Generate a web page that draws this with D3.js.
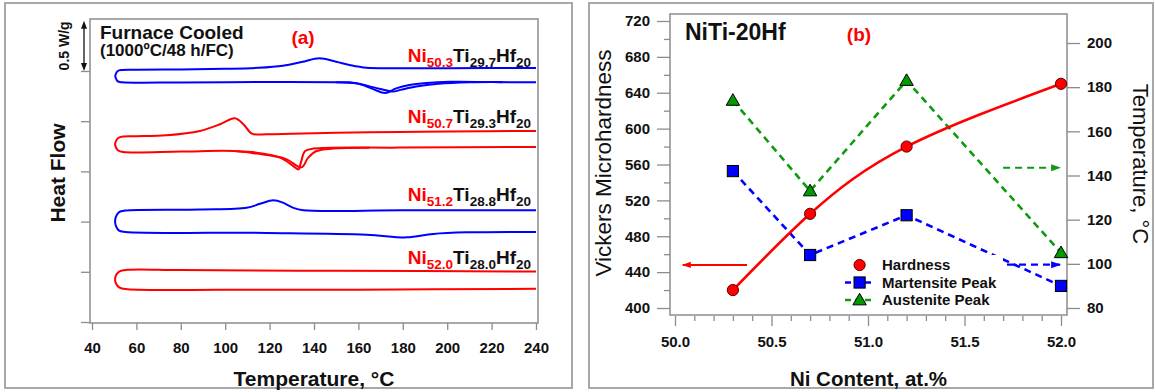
<!DOCTYPE html>
<html>
<head>
<meta charset="utf-8">
<script src="https://cdn.jsdelivr.net/npm/d3@7"></script>
<style>
  body { margin: 0; background: #fff; }
  svg { display: block; }
</style>
</head>
<body>
<svg id="chart" width="1155" height="392"></svg>
<script>
// ---------------- Panel (a): DSC heat-flow loops ----------------
// Each loop: [temperature °C, heat flow W/g (stacked offset)], cooling branch
// from 240 °C down to 50 °C, the turn, then the heating branch back up.
const dscNi503 = [
  [240, 2.530], [200, 2.528], [180, 2.528], [163.7, 2.532], [156, 2.560], [150, 2.593],
  [142.4, 2.627], [135, 2.593], [126, 2.553], [115, 2.532], [100, 2.522], [80, 2.516],
  [60, 2.512], [53.5, 2.510],
  [51.6, 2.500], [50.7, 2.470], [50.5, 2.449], [50.7, 2.428], [51.6, 2.397], [53.5, 2.388],
  [80, 2.386], [120, 2.390], [150, 2.388], [156, 2.387], [160.6, 2.370], [166.7, 2.320],
  [172, 2.280], [177, 2.327], [183, 2.360], [190.7, 2.380], [201, 2.392], [220, 2.390], [240, 2.388]
];
const dscNi503Cycle2 = [
  [150, 2.388], [159, 2.377], [167, 2.337], [175.5, 2.295], [179, 2.312], [186, 2.345],
  [196, 2.372], [210, 2.387], [225, 2.389]
];
const dscNi507 = [
  [240, 1.903], [200, 1.898], [178.7, 1.893], [150, 1.885], [130, 1.875], [118.7, 1.870],
  [112, 1.877], [108.2, 1.970], [104.4, 2.030], [97.7, 1.970], [88.6, 1.903], [73.6, 1.860],
  [60, 1.850], [54, 1.847],
  [51.8, 1.832], [50.7, 1.797], [50.4, 1.770], [50.7, 1.743], [51.8, 1.708], [54, 1.693],
  [80, 1.697], [103.7, 1.703], [114.2, 1.677], [124.7, 1.637], [130.7, 1.553], [133, 1.520],
  [134.1, 1.590], [136, 1.703], [139.7, 1.727], [178.7, 1.737], [240, 1.743]
];
const dscNi507Cycle2 = [
  [105, 1.700], [114.2, 1.687], [121, 1.660], [127.7, 1.620], [134.4, 1.540], [137.4, 1.637],
  [141.2, 1.703], [148.7, 1.727], [165, 1.735]
];
const dscNi512 = [
  [240, 1.113], [180, 1.113], [135.2, 1.113], [130.7, 1.137], [126.2, 1.187], [121.7, 1.213],
  [115.7, 1.177], [109.7, 1.137], [88.6, 1.120], [55, 1.110],
  [52.2, 1.095], [50.8, 1.050], [50.4, 1.003], [50.8, 0.956], [52.2, 0.910], [55, 0.897],
  [118.7, 0.887], [163.7, 0.870], [181.7, 0.843], [193.7, 0.877], [208.8, 0.893], [240, 0.897]
];
const dscNi520 = [
  [240, 0.503], [150, 0.510], [80, 0.517], [56, 0.520],
  [52.4, 0.505], [50.8, 0.465], [50.4, 0.424], [50.8, 0.383], [52.4, 0.342], [56, 0.327],
  [100, 0.320], [160, 0.322], [240, 0.330]
];
const alloyNi = ["50.3", "50.7", "51.2", "52.0"];
const alloyTi = ["29.7", "29.3", "28.8", "28.0"];
const alloyHf = "20";
const dscTempTicks = [40, 60, 80, 100, 120, 140, 160, 180, 200, 220, 240];
const heatFlowTicks = [0, 0.5, 1.0, 1.5, 2.0, 2.5];

// ---------------- Panel (b): hardness and transformation peaks ----------------
const niContent = [50.3, 50.7, 51.2, 52.0];
const hardness = [420, 505, 580, 650];
const martensitePeak = [142, 104, 122, 90];
const austenitePeak = [174, 133, 183, 105];
const hardnessTicks = [400, 440, 480, 520, 560, 600, 640, 680, 720];
const hardnessMinorTicks = [420, 460, 500, 540, 580, 620, 660, 700];
const peakTempTicks = [80, 100, 120, 140, 160, 180, 200];
const niTicks = [50.0, 50.5, 51.0, 51.5, 52.0];
const niMinorTicks = [50.1, 50.2, 50.3, 50.4, 50.6, 50.7, 50.8, 50.9, 51.1, 51.2, 51.3, 51.4,
                      51.6, 51.7, 51.8, 51.9];
const legendNames = ["Hardness", "Martensite Peak", "Austenite Peak"];

// ---------------- styling ----------------
const FONT = "'Liberation Sans', Arial, Helvetica, sans-serif";
const FRAME = "#8c8c8c";
const RED = "#ff0000", BLUE = "#0000ff", GREEN = "#109a10";

const svg = d3.select("#chart").style("font-family", FONT);

// panel borders
svg.append("rect").attr("x", 5).attr("y", 3).attr("width", 567).attr("height", 385)
  .attr("fill", "none").attr("stroke", "#a8a8a8").attr("stroke-width", 2);
svg.append("rect").attr("x", 589).attr("y", 3).attr("width", 564).attr("height", 385)
  .attr("fill", "none").attr("stroke", "#a8a8a8").attr("stroke-width", 2);

function styleAxis(g, fontSize) {
  g.select(".domain").remove();
  g.selectAll(".tick line").attr("stroke", FRAME).attr("stroke-width", 1.3);
  g.selectAll(".tick text").attr("fill", "#111").attr("font-size", fontSize)
    .attr("font-weight", "bold").attr("font-family", FONT);
}

// ======== Panel (a) ========
const gA = svg.append("g");
const xA = d3.scaleLinear().domain([40, 240]).range([92, 536]);
const yA = d3.scaleLinear().domain([0, 2.5]).range([322, 71]);
const boxA = { x0: 90, x1: 538, y0: 19, y1: 323 };

gA.append("g").attr("transform", `translate(0,${boxA.y1})`)
  .call(d3.axisBottom(xA).tickValues(dscTempTicks).tickSize(7).tickPadding(12).tickFormat(d3.format("d")))
  .call(g => styleAxis(g, 15));
gA.append("g").attr("transform", `translate(${boxA.x0},0)`)
  .call(d3.axisLeft(yA).tickValues(heatFlowTicks).tickSize(9).tickFormat(""))
  .call(g => styleAxis(g, 15));

gA.append("rect").attr("x", boxA.x0).attr("y", boxA.y0)
  .attr("width", boxA.x1 - boxA.x0).attr("height", boxA.y1 - boxA.y0)
  .attr("fill", "none").attr("stroke", FRAME).attr("stroke-width", 1.5);

const lineA = d3.line().x(d => xA(d[0])).y(d => yA(d[1])).curve(d3.curveCatmullRom.alpha(0.5));
const loops = [
  [dscNi503, BLUE], [dscNi503Cycle2, BLUE],
  [dscNi507, RED], [dscNi507Cycle2, RED],
  [dscNi512, BLUE], [dscNi520, RED]
];
loops.forEach(([data, color]) => {
  gA.append("path").attr("d", lineA(data)).attr("fill", "none")
    .attr("stroke", color).attr("stroke-width", 2).attr("stroke-linejoin", "round");
});

// composition labels (baseline in heat-flow units)
const labelBase = [2.59, 1.98, 1.21, 0.58];
const labelColor = [RED, RED, RED, RED];
alloyNi.forEach((ni, i) => {
  const t = gA.append("text").attr("x", 531).attr("y", yA(labelBase[i]))
    .attr("text-anchor", "end").attr("font-weight", "bold").attr("font-size", 19).attr("fill", "#111");
  t.append("tspan").attr("fill", labelColor[i]).text("Ni");
  t.append("tspan").attr("fill", labelColor[i]).attr("font-size", 13.5).attr("dy", 5).text(ni);
  t.append("tspan").attr("dy", -5).text("Ti");
  t.append("tspan").attr("font-size", 13.5).attr("dy", 5).text(alloyTi[i]);
  t.append("tspan").attr("dy", -5).text("Hf");
  t.append("tspan").attr("font-size", 13.5).attr("dy", 5).text(alloyHf);
});

// annotations
gA.append("text").attr("x", 100).attr("y", 38.5).attr("font-weight", "bold").attr("font-size", 19)
  .attr("fill", "#111").text("Furnace Cooled");
gA.append("text").attr("x", 100).attr("y", 56).attr("font-weight", "bold").attr("font-size", 17)
  .attr("fill", "#111").text("(1000ºC/48 h/FC)");
gA.append("text").attr("x", 303).attr("y", 44).attr("text-anchor", "middle").attr("font-weight", "bold")
  .attr("font-size", 19).attr("fill", RED).text("(a)");

// 0.5 W/g scale bar
const barX = 84, barTop = yA(3.0), barBot = yA(2.5);
gA.append("line").attr("x1", barX).attr("x2", barX).attr("y1", barTop + 4).attr("y2", barBot - 4)
  .attr("stroke", "#111").attr("stroke-width", 1.3);
gA.append("path").attr("d", `M${barX},${barTop} l-3,8 h6 Z M${barX},${barBot} l-3,-8 h6 Z`).attr("fill", "#111");
gA.append("text").attr("transform", `translate(69,${(barTop + barBot) / 2}) rotate(-90)`)
  .attr("text-anchor", "middle").attr("font-weight", "bold").attr("font-size", 14).attr("fill", "#111")
  .text("0.5 W/g");

gA.append("text").attr("transform", `translate(65,173) rotate(-90)`).attr("text-anchor", "middle")
  .attr("font-weight", "bold").attr("font-size", 21).attr("fill", "#111").text("Heat Flow");
gA.append("text").attr("x", (boxA.x0 + boxA.x1) / 2).attr("y", 386).attr("text-anchor", "middle")
  .attr("font-weight", "bold").attr("font-size", 21).attr("fill", "#111").text("Temperature, °C");

// ======== Panel (b) ========
const gB = svg.append("g");
const xB = d3.scaleLinear().domain([50, 52]).range([675, 1061]);
const yH = d3.scaleLinear().domain([400, 720]).range([308, 21]);
const yT = d3.scaleLinear().domain([80, 200]).range([308, 43]);
const boxB = { x0: 670, x1: 1067, y0: 14, y1: 315 };

gB.append("g").attr("transform", `translate(0,${boxB.y1 + 1})`)
  .call(d3.axisBottom(xB).tickValues(niTicks).tickSize(10).tickPadding(10).tickFormat(d3.format(".1f")))
  .call(g => styleAxis(g, 15));
gB.append("g").attr("transform", `translate(0,${boxB.y1 + 1})`)
  .call(d3.axisBottom(xB).tickValues(niMinorTicks).tickSize(5).tickFormat(""))
  .call(g => styleAxis(g, 15));
gB.append("g").attr("transform", `translate(${boxB.x0},0)`)
  .call(d3.axisLeft(yH).tickValues(hardnessTicks).tickSize(13).tickPadding(7))
  .call(g => styleAxis(g, 15));
gB.append("g").attr("transform", `translate(${boxB.x0},0)`)
  .call(d3.axisLeft(yH).tickValues(hardnessMinorTicks).tickSize(6).tickFormat(""))
  .call(g => styleAxis(g, 15));
gB.append("g").attr("transform", `translate(${boxB.x1},0)`)
  .call(d3.axisRight(yT).tickValues(peakTempTicks).tickSize(13).tickPadding(7))
  .call(g => styleAxis(g, 15));

gB.append("rect").attr("x", boxB.x0).attr("y", boxB.y0)
  .attr("width", boxB.x1 - boxB.x0).attr("height", boxB.y1 - boxB.y0)
  .attr("fill", "none").attr("stroke", FRAME).attr("stroke-width", 1.5);

// arrow heads
const defs = svg.append("defs");
[["headRed", RED], ["headBlue", BLUE], ["headGreen", GREEN]].forEach(([id, c]) => {
  defs.append("marker").attr("id", id).attr("viewBox", "0 0 10 10").attr("refX", 9).attr("refY", 5)
    .attr("markerWidth", 4.5).attr("markerHeight", 4.5).attr("markerUnits", "strokeWidth")
    .attr("orient", "auto")
    .append("path").attr("d", "M0,1.5 L10,5 L0,8.5 Z").attr("fill", c);
});

// series lines
const austLine = d3.line().x((d, i) => xB(niContent[i])).y(d => yT(d));
gB.append("path").attr("d", austLine(austenitePeak)).attr("fill", "none").attr("stroke", GREEN)
  .attr("stroke-width", 2.6).attr("stroke-dasharray", "7,5");
gB.append("path").attr("d", austLine(martensitePeak)).attr("fill", "none").attr("stroke", BLUE)
  .attr("stroke-width", 2.6).attr("stroke-dasharray", "7,5");
const hardLine = d3.line().x((d, i) => xB(niContent[i])).y(d => yH(d)).curve(d3.curveNatural);
gB.append("path").attr("d", hardLine(hardness)).attr("fill", "none").attr("stroke", RED)
  .attr("stroke-width", 2.6);

// axis-pointer arrows
gB.append("line").attr("x1", xB(50.373)).attr("x2", xB(50.04)).attr("y1", yH(448)).attr("y2", yH(448))
  .attr("stroke", RED).attr("stroke-width", 2).attr("marker-end", "url(#headRed)");
gB.append("line").attr("x1", xB(51.70)).attr("x2", xB(51.995)).attr("y1", yT(143.5)).attr("y2", yT(143.5))
  .attr("stroke", GREEN).attr("stroke-width", 2.2).attr("stroke-dasharray", "7,5").attr("marker-end", "url(#headGreen)");
gB.append("line").attr("x1", xB(51.72)).attr("x2", xB(51.995)).attr("y1", yT(99.6)).attr("y2", yT(99.6))
  .attr("stroke", BLUE).attr("stroke-width", 2.2).attr("stroke-dasharray", "7,5").attr("marker-end", "url(#headBlue)");

// markers
const tri = d3.symbol().type(d3.symbolTriangle).size(78);
const drawCircle = (g, x, y) => g.append("circle").attr("cx", x).attr("cy", y).attr("r", 5.6)
  .attr("fill", RED).attr("stroke", "#5a0000").attr("stroke-width", 1);
const drawSquare = (g, x, y) => g.append("rect").attr("x", x - 5.6).attr("y", y - 5.6)
  .attr("width", 11.2).attr("height", 11.2).attr("fill", BLUE).attr("stroke", "#000").attr("stroke-width", 1);
const drawTri = (g, x, y) => g.append("path").attr("d", tri()).attr("transform", `translate(${x},${y + 1})`)
  .attr("fill", "#009a00").attr("stroke", "#000").attr("stroke-width", 1);

niContent.forEach((n, i) => {
  drawTri(gB, xB(n), yT(austenitePeak[i]));
  drawSquare(gB, xB(n), yT(martensitePeak[i]));
  drawCircle(gB, xB(n), yH(hardness[i]));
});

// legend
const lg = gB.append("g");
lg.append("rect").attr("x", 838).attr("y", 255).attr("width", 165).attr("height", 55).attr("fill", "#fff");
const lgY = [265, 282.5, 300], lgX = 859.6;
lg.append("line").attr("x1", 845).attr("x2", 875).attr("y1", lgY[1]).attr("y2", lgY[1])
  .attr("stroke", BLUE).attr("stroke-width", 2.6).attr("stroke-dasharray", "6,4");
lg.append("line").attr("x1", 845).attr("x2", 875).attr("y1", lgY[2]).attr("y2", lgY[2])
  .attr("stroke", GREEN).attr("stroke-width", 2.6).attr("stroke-dasharray", "6,4");
drawCircle(lg, lgX, lgY[0]);
drawSquare(lg, lgX, lgY[1]);
drawTri(lg, lgX, lgY[2]);
legendNames.forEach((name, i) => {
  lg.append("text").attr("x", 882).attr("y", lgY[i]).attr("dy", "0.36em").attr("font-weight", "bold")
    .attr("font-size", 15).attr("fill", "#111").text(name);
});

// titles
gB.append("text").attr("x", 685).attr("y", 39.5).attr("font-weight", "bold").attr("font-size", 23)
  .attr("fill", "#111").text("NiTi-20Hf");
gB.append("text").attr("x", 859).attr("y", 41).attr("text-anchor", "middle").attr("font-weight", "bold")
  .attr("font-size", 19).attr("fill", RED).text("(b)");
gB.append("text").attr("transform", `translate(611,163) rotate(-90)`).attr("text-anchor", "middle")
  .attr("font-size", 22.5).attr("fill", "#111").text("Vickers Microhardness");
gB.append("text").attr("transform", `translate(1133,164) rotate(90)`).attr("text-anchor", "middle")
  .attr("font-size", 22).attr("fill", "#111").text("Temperature, °C");
gB.append("text").attr("x", (boxB.x0 + boxB.x1) / 2).attr("y", 386).attr("text-anchor", "middle")
  .attr("font-weight", "bold").attr("font-size", 20.5).attr("fill", "#111").text("Ni Content, at.%");
</script>
</body>
</html>
